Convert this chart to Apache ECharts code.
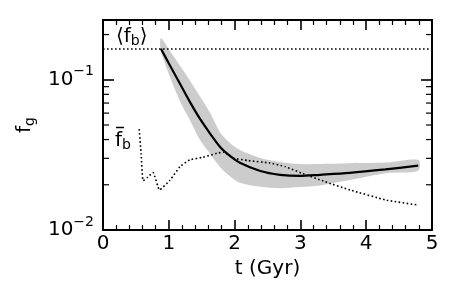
<!DOCTYPE html>
<html>
<head>
<meta charset="utf-8">
<script src="https://cdn.jsdelivr.net/npm/echarts@6/dist/echarts.min.js"></script>
<style>
html,body{margin:0;padding:0;background:#fff;}
#chart{width:458px;height:305px;}
</style>
</head>
<body>
<div id="chart"></div>
<script>
// ---- data ----
const xMin = 0, xMax = 5, xStep = 1;
const yMin = 0.01, yMax = 0.25;
const yMinorTicks = [0.02, 0.03, 0.04, 0.05, 0.06, 0.07, 0.08, 0.09, 0.2];
const fbMean = 0.16;                 // <f_b>
// gas fraction f_g (solid) with its spread (grey band)
const tGas   = [0.88, 1.02, 1.17, 1.32, 1.47, 1.63, 1.78, 1.93, 2.08, 2.39, 2.69, 2.99, 3.30, 3.75, 4.29, 4.79];
const fGas   = [0.161, 0.124, 0.094, 0.0713, 0.0553, 0.0437, 0.0357, 0.0311, 0.0280, 0.0247, 0.0233, 0.0229, 0.0233, 0.0240, 0.0253, 0.0268];
const fGasLo = [0.156, 0.104, 0.072, 0.054, 0.040, 0.032, 0.0262, 0.0228, 0.0206, 0.0194, 0.0190, 0.0193, 0.0198, 0.0215, 0.0239, 0.0248];
const fGasHi = [0.190, 0.155, 0.124, 0.099, 0.078, 0.060, 0.0445, 0.0380, 0.0341, 0.0302, 0.0284, 0.0275, 0.0275, 0.0278, 0.0281, 0.0293];
// f_b bar (dotted)
const tBar = [0.55, 0.58, 0.61, 0.68, 0.76, 0.86, 1.02, 1.17, 1.32, 1.52, 1.73, 1.83, 1.98, 2.20, 2.54, 2.77, 3.02, 3.37, 3.75, 4.31, 4.77];
const fBar = [0.0469, 0.032, 0.0213, 0.0225, 0.0241, 0.0185, 0.0215, 0.0264, 0.0293, 0.0305, 0.0324, 0.0330, 0.0301, 0.0290, 0.0279, 0.0264, 0.0239, 0.0210, 0.0185, 0.0158, 0.0147];

const FONT = 'DejaVu Sans';
const chart = echarts.init(document.getElementById('chart'), null, {renderer: 'canvas'});

function logLabel(v) {
  const e = Math.round(Math.log10(v));
  if (Math.abs(Math.log10(v) - e) > 1e-6) return '';
  return '10{sup|' + (e < 0 ? '\u2212' + (-e) : e) + '}';
}

const xCommon = {
  type: 'value', min: xMin, max: xMax, interval: xStep,
  axisLine: {onZero: false, lineStyle: {color: '#000', width: 2}},
  axisTick: {inside: true, length: 10, lineStyle: {color: '#000', width: 1.6}},
  minorTick: {show: true, splitNumber: 5, length: 5, lineStyle: {color: '#000', width: 1.2}},
  splitLine: {show: false}
};
const yCommon = {
  type: 'log', logBase: 10, min: yMin, max: yMax,
  axisLine: {onZero: false, lineStyle: {color: '#000', width: 2}},
  axisTick: {inside: true, length: 11, lineStyle: {color: '#000', width: 1.6}},
  splitLine: {show: false}
};

const option = {
  animation: false,
  backgroundColor: '#fff',
  grid: {left: 103, right: 26, top: 20, bottom: 75},
  xAxis: [
    Object.assign({}, xCommon, {
      position: 'bottom',
      name: 't (Gyr)', nameLocation: 'middle', nameGap: 27,
      nameTextStyle: {fontFamily: FONT, fontSize: 20, color: '#000'},
      axisLabel: {fontFamily: FONT, fontSize: 20, color: '#000', margin: 4}
    }),
    Object.assign({}, xCommon, {position: 'top', axisLabel: {show: false}})
  ],
  yAxis: [
    Object.assign({}, yCommon, {
      position: 'left',
      name: 'f{sub|g}', nameLocation: 'middle', nameGap: 56, nameRotate: 90,
      nameTextStyle: {fontFamily: FONT, fontSize: 20, color: '#000', lineHeight: 24,
        rich: {sub: {fontFamily: FONT, fontSize: 14, lineHeight: 12, verticalAlign: 'bottom', color: '#000'}}},
      axisLabel: {fontFamily: FONT, fontSize: 20, color: '#000', margin: 9, lineHeight: 30,
        formatter: logLabel,
        rich: {sup: {fontFamily: FONT, fontSize: 14, lineHeight: 14, verticalAlign: 'top', color: '#000'}}}
    }),
    Object.assign({}, yCommon, {position: 'right', axisLabel: {show: false}})
  ],
  graphic: [
    {type: 'text', left: 116, top: 26, z: 100,
      style: {text: '\u27E8f{sub|b}\u27E9', fontFamily: FONT, fontSize: 20, fill: '#000', lineHeight: 22,
        rich: {sub: {fontFamily: FONT, fontSize: 14, lineHeight: 14, verticalAlign: 'bottom', fill: '#000'}}}},
    {type: 'text', left: 115, top: 130, z: 100,
      style: {text: 'f{sub|b}', fontFamily: FONT, fontSize: 20, fill: '#000', lineHeight: 22,
        rich: {sub: {fontFamily: FONT, fontSize: 14, lineHeight: 14, verticalAlign: 'bottom', fill: '#000'}}}},
    {type: 'line', z: 100, shape: {x1: 116, y1: 127.5, x2: 124, y2: 127.5},
      style: {stroke: '#000', lineWidth: 1.5}}
  ],
  series: [
    {
      type: 'custom', name: 'band', z: 1, silent: true,
      data: tGas.map((t, i) => [t, fGasLo[i], fGasHi[i]]),
      renderItem: function (params, api) {
        if (params.dataIndex !== 0) return null;
        const up = tGas.map((t, i) => api.coord([t, fGasHi[i]]));
        const lo = tGas.map((t, i) => api.coord([t, fGasLo[i]])).reverse();
        return {type: 'polygon', shape: {points: up.concat(lo), smooth: 0.3},
          style: {fill: '#cccccc', stroke: null}};
      }
    },
    {
      type: 'custom', name: 'yminor', z: 5, silent: true, clip: false,
      data: yMinorTicks.map(v => [xMin, v]),
      renderItem: function (params, api) {
        const v = yMinorTicks[params.dataIndex];
        const p = api.coord([xMin, v]);
        const q = api.coord([xMax, v]);
        const st = {stroke: '#000', lineWidth: 1.2};
        return {type: 'group', children: [
          {type: 'line', shape: {x1: p[0], y1: p[1], x2: p[0] + 6, y2: p[1]}, style: st},
          {type: 'line', shape: {x1: q[0] - 6, y1: q[1], x2: q[0], y2: q[1]}, style: st}
        ]};
      }
    },
    {
      type: 'line', name: 'fbar', z: 3, symbol: 'none', smooth: 0.15,
      data: tBar.map((t, i) => [t, fBar[i]]),
      lineStyle: {color: '#000', width: 1.6, type: [1.6, 2.4]},
      markLine: {
        silent: true, symbol: 'none', label: {show: false},
        lineStyle: {color: '#000', width: 1.6, type: [1.6, 2.4]},
        data: [{yAxis: fbMean}]
      }
    },
    {
      type: 'line', name: 'fgas', z: 4, symbol: 'none', smooth: 0.3,
      data: tGas.map((t, i) => [t, fGas[i]]),
      lineStyle: {color: '#000', width: 2.2}
    }
  ]
};
chart.setOption(option);
</script>
</body>
</html>
